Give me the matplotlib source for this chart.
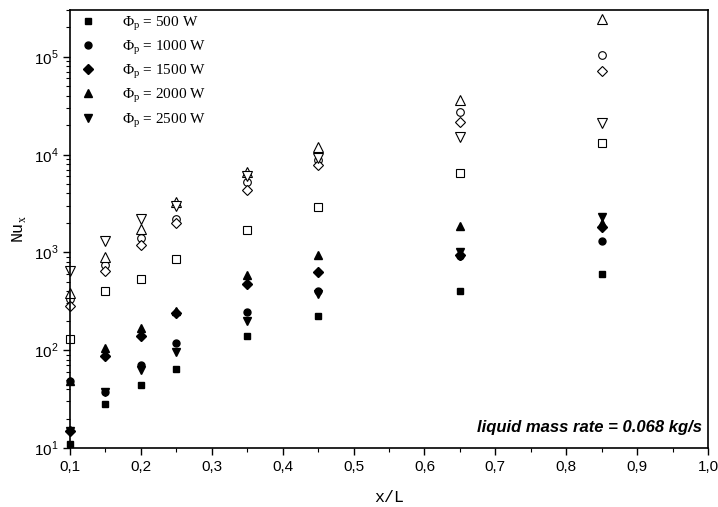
import numpy as np
import matplotlib as mpl
mpl.use('Agg')
import matplotlib.pyplot as plt
from matplotlib.ticker import LogLocator, MultipleLocator, FuncFormatter

plt.rcParams['font.family'] = ['Liberation Sans', 'DejaVu Sans']
plt.rcParams['mathtext.fontset'] = 'custom'
plt.rcParams['mathtext.rm'] = 'Liberation Sans'
plt.rcParams['mathtext.sf'] = 'Liberation Serif'

x = [0.1, 0.15, 0.2, 0.25, 0.35, 0.45, 0.65, 0.85]

# measured (filled markers)
nu_500 = [11, 28, 44, 64, 140, 225, 400, 600]
nu_1000 = [48, 37, 70, 118, 245, 400, 920, 1300]
nu_1500 = [15, 87, 140, 240, 470, 630, 950, 1800]
nu_2000 = [48, 105, 170, 250, 590, 930, 1850, 2000]
nu_2500 = [15, 37, 62, 95, 200, 375, 1000, 2300]

# open markers
nu_500_o = [130, 400, 540, 850, 1700, 2900, 6400, 13000]
nu_1000_o = [330, 750, 1400, 2200, 5200, 8800, 27000, 105000]
nu_1500_o = [280, 650, 1200, 2000, 4300, 7800, 21500, 72000]
nu_2000_o = [380, 900, 1750, 3300, 6600, 11800, 36000, 240000]
nu_2500_o = [650, 1300, 2200, 3000, 6000, 9300, 15000, 21000]

powers = ['500', '1000', '1500', '2000', '2500']
markers = ['s', 'o', 'D', '^', 'v']
sizes = [5, 5, 5, 6, 6]
filled = [nu_500, nu_1000, nu_1500, nu_2000, nu_2500]
hollow = [nu_500_o, nu_1000_o, nu_1500_o, nu_2000_o, nu_2500_o]

fig = plt.figure(figsize=(7.18, 5.07), dpi=100)
ax = fig.add_axes([70/718, 1 - 448/507, 638/718, 438/507])

for p, m, s, yf, yo in zip(powers, markers, sizes, filled, hollow):
    ax.plot(x, yf, ls='none', marker=m, ms=s, mfc='black', mec='black', clip_on=False,
            label='Φ$_\\mathsf{p}$ = ' + p + ' W')
    ax.plot(x, yo, ls='none', marker=m, ms=s + 0.5, mfc='white', mec='black', mew=0.8,
            clip_on=False)

ax.set_yscale('log')
ax.set_xlim(0.1, 1.0)
ax.set_ylim(10, 3e5)

ax.xaxis.set_major_locator(MultipleLocator(0.1))
ax.xaxis.set_minor_locator(MultipleLocator(0.05))
ax.xaxis.set_major_formatter(FuncFormatter(lambda v, pos: ('%.1f' % v).replace('.', ',')))
ax.yaxis.set_major_locator(LogLocator(base=10, numticks=10))
ax.yaxis.set_minor_locator(LogLocator(base=10, subs=np.arange(2, 10), numticks=20))
ax.yaxis.set_major_formatter(FuncFormatter(lambda v, pos: '$10^{%d}$' % round(np.log10(v))))

ax.tick_params(which='both', direction='out', top=False, right=False, labelsize=11)
ax.tick_params(which='major', length=5, width=1)
ax.tick_params(which='minor', length=3, width=0.8)
for sp in ax.spines.values():
    sp.set_linewidth(1.2)

ax.set_xlabel('x/L', family='Liberation Mono', fontsize=12, labelpad=12)
ax.set_ylabel('Nu$_\\mathsf{x}$', family='Liberation Mono', fontsize=12, labelpad=4)

ax.text(0.99, 0.03, 'liquid mass rate = 0.068 kg/s', transform=ax.transAxes,
        ha='right', va='bottom', fontsize=12, fontweight='bold', fontstyle='italic')

leg = ax.legend(loc='upper left', frameon=False, prop={'family': 'Liberation Serif', 'size': 11},
                handletextpad=1.5, labelspacing=0.36, borderaxespad=0.0, borderpad=0.3,
                handlelength=1.4, bbox_to_anchor=(0.005, 1.0))

fig.savefig('out.png', dpi=100)
